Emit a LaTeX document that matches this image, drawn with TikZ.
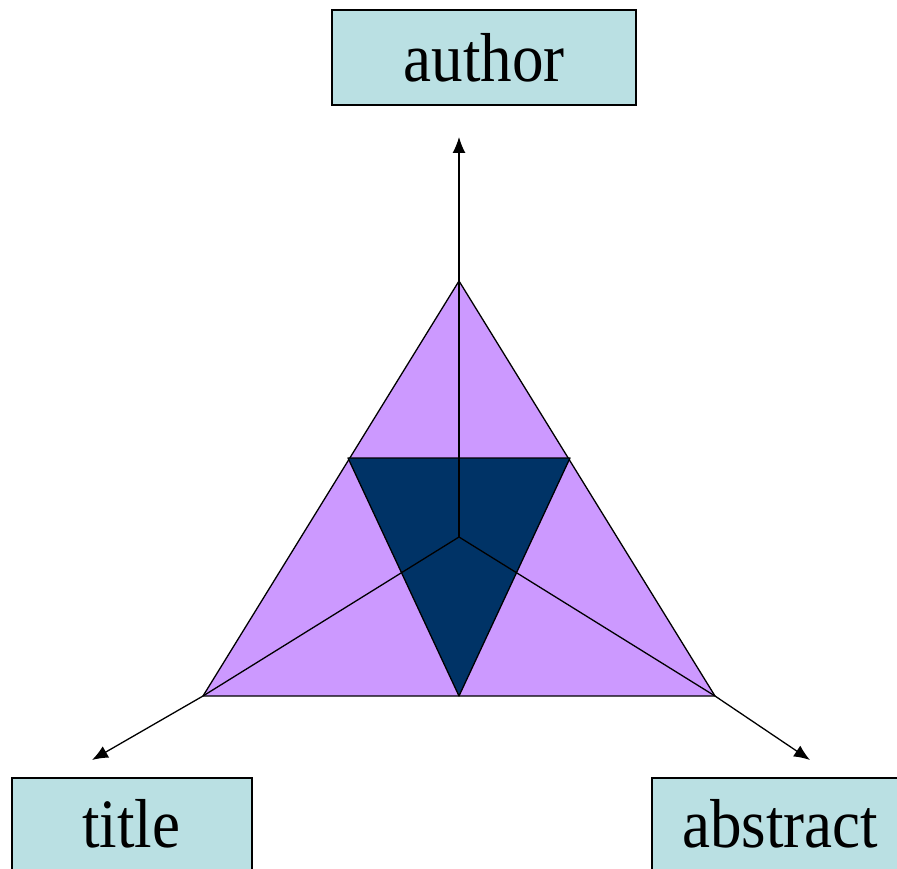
\documentclass[tikz,border=0pt]{standalone}
\usepackage{fontspec}
\setmainfont{Liberation Serif}
\usetikzlibrary{arrows.meta}
\definecolor{boxfill}{RGB}{186,224,227}
\definecolor{lilac}{RGB}{204,153,255}
\definecolor{navy}{RGB}{0,51,102}
\newcommand{\tallword}[1]{\scalebox{1}[1.1]{#1}}
\begin{document}
\begin{tikzpicture}[x=1pt,y=-1pt,
  labelbox/.style={draw=black,line width=2pt,fill=boxfill,minimum height=95pt,inner sep=0pt,anchor=north west},
  wordlabel/.style={anchor=base,inner sep=0pt,font=\fontsize{63}{63}\selectfont},
  axis/.style={line width=1.3pt,-{Latex[length=16pt,width=13pt]}},
  tri/.style={draw=black,line width=1.3pt,line join=round}]
\useasboundingbox (0,0) rectangle (897,869);
\begin{scope}
\clip (0,0) rectangle (897,869);
\node[labelbox,minimum width=304pt] (author) at (331,9) {};
\node[labelbox,minimum width=240pt] (title) at (11,777) {};
\node[labelbox,minimum width=258pt] (abstract) at (651,777) {};
\end{scope}
\node[wordlabel] (authort) at (484,82) {\tallword{author}};
\node[wordlabel] (titlet) at (131,847) {\tallword{title}};
\node[wordlabel] (abstractt) at (780,847) {\tallword{abstract}};
\coordinate (A) at (459,281);
\coordinate (L) at (203,696);
\coordinate (R) at (715,696);
\coordinate (P) at (348,458);
\coordinate (Q) at (570,458);
\coordinate (B) at (459,696);
\coordinate (C) at (459,537);
\coordinate (tA) at (459,137);
\coordinate (tL) at (92,760);
\coordinate (tR) at (810,760);
\draw[tri,fill=lilac] (A) -- (L) -- (R) -- cycle;
\draw[tri,fill=navy] (P) -- (Q) -- (B) -- cycle;
\draw[axis] (C) -- (tA);
\draw[axis] (C) -- (L) -- (tL);
\draw[axis] (C) -- (R) -- (tR);
\end{tikzpicture}
\end{document}
